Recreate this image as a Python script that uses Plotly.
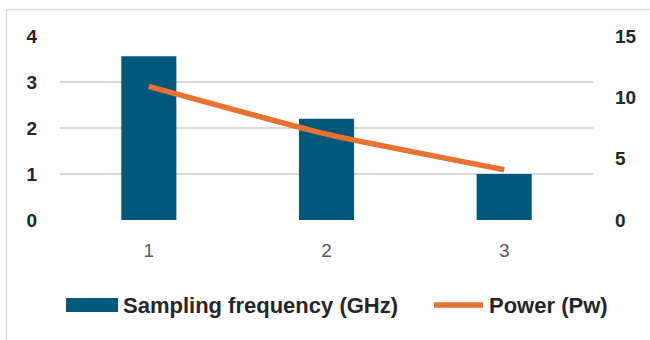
import plotly.graph_objects as go

categories = ["1", "2", "3"]
sampling_freq_ghz = [3.56, 2.2, 1.0]
power_pw = [10.9, 7.0, 4.1]
left_ticks = [0, 1, 2, 3, 4]
right_ticks = [0, 5, 10, 15]
series_names = ["Sampling frequency (GHz)", "Power (Pw)"]

BAR_COLOR = "#02587B"
LINE_COLOR = "#E97132"
GRID = "#D9D9D9"
DARK = "#262626"

W, H = 650, 340
L, R, T, B = 60, 57, 36, 120
PW, PH = W - L - R, H - T - B


def px(x):
    return (x - L) / PW


def py(y):
    return (H - B - y) / PH


fig = go.Figure()
fig.add_trace(go.Bar(
    x=categories, y=sampling_freq_ghz, name=series_names[0],
    marker=dict(color=BAR_COLOR, line=dict(width=0)), width=0.31,
    showlegend=False,
))
fig.add_trace(go.Scatter(
    x=categories, y=power_pw, name=series_names[1], yaxis="y2",
    mode="lines", line=dict(color=LINE_COLOR, width=5.5, shape="spline", smoothing=0.45),
    showlegend=False,
))

shapes = [
    # chart border (left and top visible)
    dict(type="line", xref="paper", yref="paper", x0=px(6.5), x1=px(660), y0=py(9.5), y1=py(9.5),
         line=dict(color=GRID, width=1.5)),
    dict(type="line", xref="paper", yref="paper", x0=px(6.5), x1=px(6.5), y0=py(9.5), y1=py(350),
         line=dict(color=GRID, width=1.5)),
    # legend swatches
    dict(type="rect", xref="paper", yref="paper", x0=px(66), x1=px(118), y0=py(312), y1=py(298),
         fillcolor=BAR_COLOR, line=dict(width=0)),
    dict(type="line", xref="paper", yref="paper", x0=px(434), x1=px(483), y0=py(305), y1=py(305),
         line=dict(color=LINE_COLOR, width=5.5)),
]

annotations = [
    dict(xref="paper", yref="paper", x=px(121), y=py(305), text=series_names[0], showarrow=False,
         xanchor="left", yanchor="middle", font=dict(family="Liberation Sans", size=22, color=DARK, weight="bold")),
    dict(xref="paper", yref="paper", x=px(487), y=py(305), text=series_names[1], showarrow=False,
         xanchor="left", yanchor="middle", font=dict(family="Liberation Sans", size=22, color=DARK, weight="bold")),
]

fig.update_layout(
    width=W, height=H,
    margin=dict(l=L, r=R, t=T, b=B, pad=0),
    paper_bgcolor="white", plot_bgcolor="white",
    shapes=shapes, annotations=annotations,
    xaxis=dict(
        type="category", range=[-0.5, 2.5], showgrid=False, zeroline=False, showline=False,
        ticks="", tickfont=dict(family="Liberation Sans", size=19, color="#595959"),
        ticklabelstandoff=17,
    ),
    yaxis=dict(
        range=[0, 4], tickvals=left_ticks, showgrid=True, gridcolor=GRID, gridwidth=1.5,
        zeroline=False, showline=False, ticks="",
        tickfont=dict(family="Liberation Sans", size=19, color=DARK, weight="bold"),
        ticklabelstandoff=22,
    ),
    yaxis2=dict(
        range=[0, 15], tickvals=right_ticks, overlaying="y", side="right", showgrid=False,
        zeroline=False, showline=False, ticks="",
        tickfont=dict(family="Liberation Sans", size=19, color=DARK, weight="bold"),
        ticklabelstandoff=21,
    ),
)

fig.write_html("out.html")
